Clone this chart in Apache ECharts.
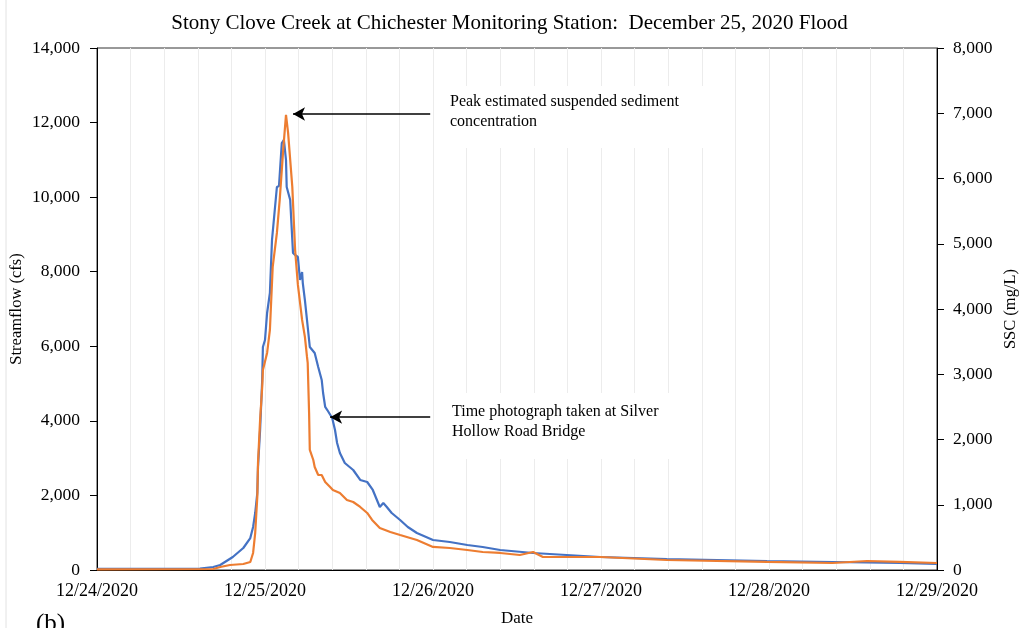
<!DOCTYPE html>
<html>
<head>
<meta charset="utf-8">
<script src="https://cdn.jsdelivr.net/npm/echarts@6/dist/echarts.min.js"></script>
<style>html,body{margin:0;padding:0;background:#fff}#c{width:1019px;height:628px}</style>
</head>
<body>
<div id="c"></div>
<script>
// hours since 12/24/2020 00:00
const flowHours = [0, 14.7, 16.6, 17.6, 19.4, 20.9, 21.9, 22.3, 22.6, 22.9, 23.0, 23.3, 23.6, 23.7, 24.0, 24.3, 24.4, 24.7, 25.0, 25.7, 26.0, 26.4, 26.7, 27.0, 27.1, 27.6, 28.0, 28.3, 28.7, 29.0, 29.3, 29.4, 29.7, 30.0, 30.4, 31.1, 31.6, 32.1, 32.3, 32.6, 32.9, 33.6, 34.0, 34.3, 34.7, 35.4, 36.6, 37.6, 38.6, 39.4, 40.4, 40.9, 41.4, 42.1, 43.3, 44.4, 45.7, 48.0, 50.4, 52.9, 55.1, 57.6, 62.3, 71.9, 81.4, 95.7, 105.1, 114.7, 120];
const flowValues = [30, 40, 80, 134, 349, 590, 858, 1153, 1529, 2065, 2762, 3755, 5096, 5981, 6169, 6893, 6920, 7429, 8851, 10272, 10299, 11452, 11533, 10996, 10272, 9923, 8502, 8448, 8395, 7778, 7992, 7697, 7241, 6705, 5981, 5820, 5444, 5096, 4747, 4372, 4291, 4077, 3755, 3406, 3138, 2870, 2682, 2414, 2360, 2146, 1690, 1797, 1690, 1529, 1341, 1153, 992, 805, 751, 671, 617, 536, 456, 349, 295, 241, 215, 188, 161];

const sscHours = [0, 16.6, 17.6, 19.0, 20.9, 21.9, 22.3, 22.6, 22.9, 23.0, 23.3, 23.6, 23.7, 24.3, 24.7, 25.1, 25.7, 26.1, 26.6, 27.0, 27.3, 27.9, 28.3, 28.7, 29.3, 29.7, 30.0, 30.1, 30.3, 30.4, 30.9, 31.1, 31.6, 32.1, 32.6, 33.3, 33.7, 34.7, 35.7, 36.6, 37.6, 38.6, 39.3, 40.4, 41.9, 43.3, 45.7, 48.0, 50.4, 52.9, 55.1, 57.6, 60.4, 62.3, 63.7, 71.9, 81.4, 95.7, 105.1, 110.0, 114.7, 120];
const sscValues = [10, 15, 46, 77, 92, 123, 261, 567, 1119, 1640, 2300, 2805, 3066, 3327, 3679, 4645, 5166, 5672, 6439, 6975, 6699, 5871, 4906, 4369, 3833, 3572, 3265, 3173, 2407, 1840, 1686, 1579, 1456, 1456, 1349, 1272, 1226, 1180, 1073, 1042, 966, 874, 767, 644, 583, 537, 460, 353, 337, 307, 276, 261, 230, 276, 199, 199, 153, 123, 107, 138, 123, 107];

const dateLabels = ['12/24/2020', '12/25/2020', '12/26/2020', '12/27/2020', '12/28/2020', '12/29/2020'];

// annotation arrows: [tailHour, headHour, streamflow level]
const peakArrow = [47.6, 28.0, 12230];
const photoArrow = [47.6, 33.3, 4100];

const FONT = '"Liberation Serif", "Times New Roman", serif';
const chart = echarts.init(document.getElementById('c'), null, {renderer: 'canvas'});

const zip = (a, b) => a.map((v, i) => [v, b[i]]);

chart.setOption({
  backgroundColor: '#fff',
  animation: false,
  textStyle: {fontFamily: FONT, color: '#000'},
  title: {
    text: 'Stony Clove Creek at Chichester Monitoring Station:  December 25, 2020 Flood',
    left: 'center', top: 8,
    textStyle: {fontFamily: FONT, fontSize: 21, fontWeight: 'normal', color: '#000'}
  },
  grid: {left: 97, right: 82, top: 48, bottom: 58, containLabel: false, outerBoundsMode: 'none',
    show: true, borderColor: '#333', borderWidth: 1, backgroundColor: 'transparent'},
  xAxis: {
    type: 'value', min: 0, max: 120, interval: 24,
    name: 'Date', nameLocation: 'middle', nameGap: 40, nameMoveOverlap: false,
    nameTextStyle: {fontFamily: FONT, fontSize: 17, color: '#000'},
    axisLine: {show: true, onZero: false, lineStyle: {color: '#000', width: 1}},
    axisTick: {show: false},
    minorTick: {show: false, splitNumber: 5},
    splitLine: {show: true, lineStyle: {color: '#ececec', width: 1}},
    minorSplitLine: {show: true, lineStyle: {color: '#ececec', width: 1}},
    axisLabel: {fontFamily: FONT, fontSize: 18, color: '#000', margin: 12,
      formatter: v => dateLabels[Math.round(v / 24)] || ''}
  },
  yAxis: [{
    type: 'value', min: 0, max: 14000, interval: 2000,
    name: 'Streamflow (cfs)', nameLocation: 'middle', nameGap: 72, nameRotate: 90, nameMoveOverlap: false,
    nameTextStyle: {fontFamily: FONT, fontSize: 16.5, color: '#000'},
    axisLine: {show: true, lineStyle: {color: '#000', width: 1}},
    axisTick: {show: true, length: 7, lineStyle: {color: '#000'}},
    splitLine: {show: false},
    axisLabel: {fontFamily: FONT, fontSize: 17.5, color: '#000', margin: 17,
      formatter: v => v.toLocaleString('en-US')}
  }, {
    type: 'value', min: 0, max: 8000, interval: 1000, position: 'right',
    name: 'SSC (mg/L)', nameLocation: 'middle', nameGap: 65, nameRotate: 90, nameMoveOverlap: false,
    nameTextStyle: {fontFamily: FONT, fontSize: 16.5, color: '#000'},
    axisLine: {show: true, lineStyle: {color: '#000', width: 1}},
    axisTick: {show: true, length: 7, lineStyle: {color: '#000'}},
    splitLine: {show: false},
    axisLabel: {fontFamily: FONT, fontSize: 17.5, color: '#000', margin: 16,
      formatter: v => v.toLocaleString('en-US')}
  }],
  series: [{
    name: 'Streamflow', type: 'line', yAxisIndex: 0, showSymbol: false, symbol: 'none',
    data: zip(flowHours, flowValues),
    lineStyle: {color: '#4472C4', width: 2.2}, itemStyle: {color: '#4472C4'}, z: 2,
    markLine: {
      silent: true, symbol: ['none', 'arrow'], symbolSize: [10, 12],
      label: {show: false},
      lineStyle: {color: '#000', width: 1.5, type: 'solid'},
      data: [
        [{coord: [peakArrow[0], peakArrow[2]]}, {coord: [peakArrow[1], peakArrow[2]]}],
        [{coord: [photoArrow[0], photoArrow[2]]}, {coord: [photoArrow[1], photoArrow[2]]}]
      ]
    }
  }, {
    name: 'SSC', type: 'line', yAxisIndex: 1, showSymbol: false, symbol: 'none',
    data: zip(sscHours, sscValues),
    lineStyle: {color: '#ED7D31', width: 2.2}, itemStyle: {color: '#ED7D31'}, z: 3
  }],
  graphic: [
    {type: 'line', shape: {x1: 6, y1: 0, x2: 6, y2: 628}, style: {stroke: '#e2e2e2', lineWidth: 1}, silent: true},
    {type: 'rect', shape: {x: 436, y: 86, width: 285, height: 62}, style: {fill: '#fff'}, silent: true, z: 1},
    {type: 'text', left: 450, top: 92, silent: true, z: 2,
      style: {text: 'Peak estimated suspended sediment\nconcentration', font: '16px ' + FONT, fill: '#000', lineHeight: 20}},
    {type: 'rect', shape: {x: 436, y: 393, width: 265, height: 66}, style: {fill: '#fff'}, silent: true, z: 1},
    {type: 'text', left: 452, top: 402, silent: true, z: 2,
      style: {text: 'Time photograph taken at Silver\nHollow Road Bridge', font: '16px ' + FONT, fill: '#000', lineHeight: 20}},
    {type: 'text', left: 36, top: 612, silent: true,
      style: {text: '(b)', font: '25px ' + FONT, fill: '#000'}}
  ]
});
</script>
</body>
</html>
